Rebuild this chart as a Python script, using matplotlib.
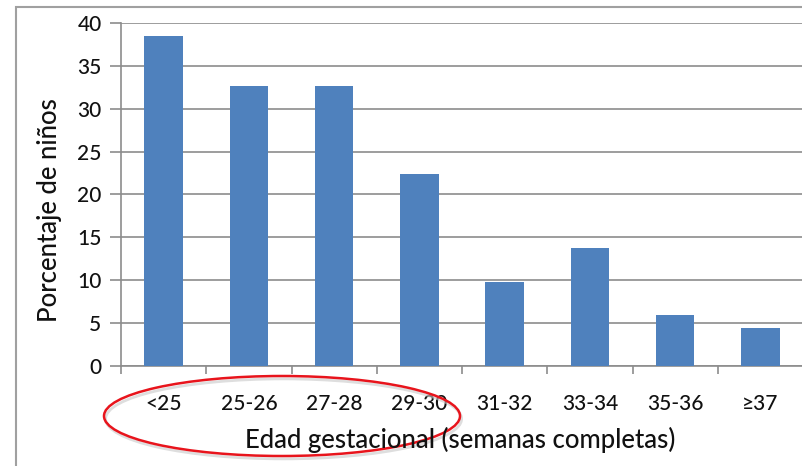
import matplotlib
matplotlib.use("Agg")
import matplotlib.pyplot as plt
from matplotlib.patches import Ellipse, Rectangle

categories = ["<25", "25-26", "27-28", "29-30", "31-32", "33-34", "35-36", "≥37"]
values = [38.5, 32.6, 32.7, 22.4, 9.8, 13.8, 6.0, 4.45]
yticks = [0, 5, 10, 15, 20, 25, 30, 35, 40]

plt.rcParams['font.family'] = ['Lato', 'DejaVu Sans']
W, H = 802, 466
fig = plt.figure(figsize=(W/100, H/100), dpi=100)
ax = fig.add_axes([121/W, (H-366)/H, (803-121)/W, (366-23)/H])

x = list(range(len(categories)))
ax.bar(x, values, width=0.45, color="#4f81bd", zorder=3)
ax.set_xlim(-0.5, len(categories)-0.5)
ax.set_ylim(0, 40)
ax.set_yticks(yticks)
ax.set_yticklabels([str(v) for v in yticks], fontsize=15, color="#111111", fontweight="medium")
ax.yaxis.grid(True, color="#8c8c8c", linewidth=1.2, zorder=0)
ax.set_xticks(x)
ax.set_xticklabels(categories, fontsize=15, color="#111111", fontweight="medium")
ax.tick_params(axis='x', length=0, pad=20)
ax.set_xticks([i-0.5 for i in range(len(categories)+1)], minor=True)
ax.tick_params(axis='x', which='minor', length=6, color="#8c8c8c", width=1.2)
ax.tick_params(axis='y', length=8, color="#8c8c8c", width=1.2, pad=6)
for s in ["top", "right"]:
    ax.spines[s].set_visible(False)
for s in ["left", "bottom"]:
    ax.spines[s].set_color("#8c8c8c")
    ax.spines[s].set_linewidth(1.2)

fig.text(50/W, 1-210/H, "Porcentaje de niños", rotation=90, ha="center", va="center",
         fontsize=18.5, color="#111111", fontweight="medium")
fig.text(460/W, 1-440/H, "Edad gestacional (semanas completas)", ha="center", va="center",
         fontsize=18.5, color="#111111", fontweight="medium")

# outer frame
fig.patches.append(Rectangle((16/W, -0.1), 1.2, (H-7)/H + 0.1, transform=fig.transFigure,
                             fill=False, edgecolor="#a0a0a0", linewidth=1.5))

# red ellipse annotation
fig.patches.append(Ellipse((282/W+0.002, 1-417/H-0.004), 356/W, 80/H, transform=fig.transFigure,
                           fill=False, edgecolor="#c8c8c8", linewidth=2, alpha=0.6))
fig.patches.append(Ellipse((282/W, 1-416/H), 356/W, 80/H, transform=fig.transFigure,
                           fill=False, edgecolor="#e8141c", linewidth=1.8))

fig.savefig("out.png", dpi=100)
